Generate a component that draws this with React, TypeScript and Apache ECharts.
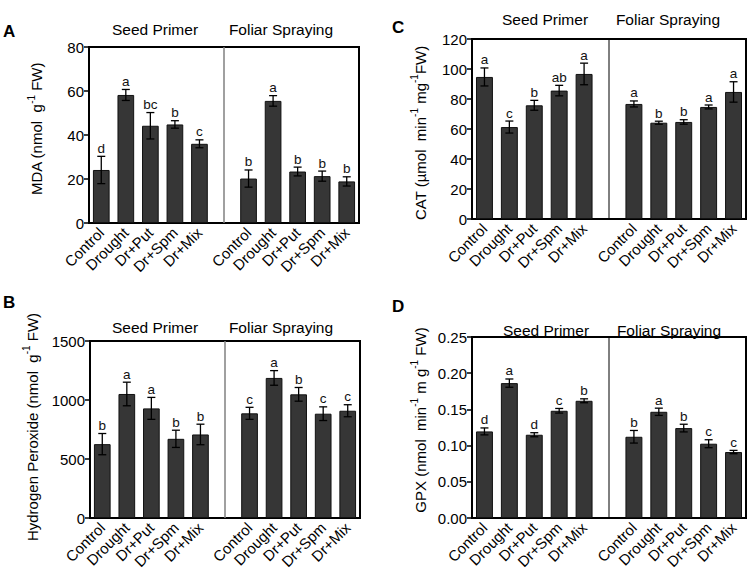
import React, { useEffect, useRef } from "react";
import * as echarts from "echarts";

const FONT = "'Liberation Sans', Arial, Helvetica, sans-serif";

const categories = ["Control", "Drought", "Dr+Put", "Dr+Spm", "Dr+Mix", "", "Control", "Drought", "Dr+Put", "Dr+Spm", "Dr+Mix"];
const groupTitles = ["Seed Primer", "Foliar Spraying"];

// Panel A: MDA
const mdaSeed = [24.1, 58.2, 44.2, 44.8, 36.0];
const mdaSeedErr = [6.2, 2.5, 6.0, 1.7, 1.8];
const mdaFoliar = [20.2, 55.5, 23.4, 21.3, 18.9];
const mdaFoliarErr = [3.9, 2.4, 2.0, 2.3, 2.1];
const mdaLetters = ["d", "a", "bc", "b", "c", "b", "a", "b", "b", "b"];

// Panel B: Hydrogen peroxide
const h2o2Seed = [626, 1051, 929, 671, 708];
const h2o2SeedErr = [90, 100, 93, 73, 87];
const h2o2Foliar = [887, 1187, 1048, 884, 909];
const h2o2FoliarErr = [51, 62, 58, 58, 51];
const h2o2Letters = ["b", "a", "a", "b", "b", "c", "a", "b", "c", "c"];

// Panel C: CAT
const catSeed = [94.7, 61.3, 75.8, 85.6, 96.7];
const catSeedErr = [6.0, 4.0, 3.3, 3.5, 7.2];
const catFoliar = [76.7, 64.2, 64.7, 74.7, 84.7];
const catFoliarErr = [2.0, 1.0, 1.5, 1.3, 6.8];
const catLetters = ["a", "c", "b", "ab", "a", "a", "b", "b", "a", "a"];

// Panel D: GPX
const gpxSeed = [0.1196, 0.1863, 0.115, 0.1481, 0.1619];
const gpxSeedErr = [0.0048, 0.0057, 0.0028, 0.0032, 0.0027];
const gpxFoliar = [0.1122, 0.1467, 0.1242, 0.1026, 0.0911];
const gpxFoliarErr = [0.0087, 0.005, 0.0053, 0.0055, 0.0023];
const gpxLetters = ["d", "a", "d", "c", "b", "b", "a", "b", "c", "c"];

type Panel = {
  seed: number[];
  seedErr: number[];
  foliar: number[];
  foliarErr: number[];
  letters: string[];
  max: number;
  interval: number;
  decimals: number;
  grid: { left: number; top: number; width: number; height: number };
  sepColor: string;
  sepWidth: number;
};

const panels: Panel[] = [
  { seed: mdaSeed, seedErr: mdaSeedErr, foliar: mdaFoliar, foliarErr: mdaFoliarErr, letters: mdaLetters, max: 80, interval: 20, decimals: 0, grid: { left: 89, top: 47, width: 270, height: 176 }, sepColor: "#808080", sepWidth: 1.5 },
  { seed: h2o2Seed, seedErr: h2o2SeedErr, foliar: h2o2Foliar, foliarErr: h2o2FoliarErr, letters: h2o2Letters, max: 1500, interval: 500, decimals: 0, grid: { left: 90, top: 341, width: 270, height: 177 }, sepColor: "#808080", sepWidth: 1.5 },
  { seed: catSeed, seedErr: catSeedErr, foliar: catFoliar, foliarErr: catFoliarErr, letters: catLetters, max: 120, interval: 20, decimals: 0, grid: { left: 472, top: 39, width: 274, height: 180 }, sepColor: "#000", sepWidth: 1 },
  { seed: gpxSeed, seedErr: gpxSeedErr, foliar: gpxFoliar, foliarErr: gpxFoliarErr, letters: gpxLetters, max: 0.25, interval: 0.05, decimals: 2, grid: { left: 472, top: 337, width: 274, height: 181 }, sepColor: "#000", sepWidth: 1 },
];

const rich = {
  n: { fontSize: 15, fontFamily: FONT, color: "#000", lineHeight: 18, verticalAlign: "bottom" as const },
  s: { fontSize: 10, fontFamily: FONT, color: "#000", lineHeight: 8, verticalAlign: "top" as const },
};

const yTitles = [
  { text: "{n|MDA (nmol  g}{s|-1}{n| FW)}", x: 35, y: 129 },
  { text: "{n|Hydrogen Peroxide (nmol  g}{s|-1}{n| FW)}", x: 30.5, y: 427 },
  { text: "{n|CAT (µmol  min}{s|-1}{n| mg}{s|-1}{n|FW)}", x: 418.5, y: 133 },
  { text: "{n|GPX (nmol  min}{s|-1}{n| m g}{s|-1}{n| FW)}", x: 418.5, y: 420 },
];

const panelLetters = [
  { t: "A", x: 3, y: 31 },
  { t: "B", x: 3, y: 302 },
  { t: "C", x: 392, y: 27 },
  { t: "D", x: 392, y: 306 },
];

const groupPos = [
  { y: 29.5, xs: [155, 281] },
  { y: 327, xs: [155, 281] },
  { y: 19.5, xs: [545, 668] },
  { y: 330, xs: [546, 669] },
];

function makeErrRender(p: Panel) {
  return (params: any, api: any) => {
    const idx = api.value(0);
    const mean = api.value(1);
    const err = api.value(2);
    const top = api.coord([idx, mean + err]);
    const bot = api.coord([idx, mean - err]);
    const hw = 4;
    const ls = { stroke: "#000", lineWidth: 1.3 };
    const children: any[] = [
      { type: "line", shape: { x1: top[0], y1: top[1], x2: bot[0], y2: bot[1] }, style: ls },
      { type: "line", shape: { x1: top[0] - hw, y1: top[1], x2: top[0] + hw, y2: top[1] }, style: ls },
      { type: "line", shape: { x1: bot[0] - hw, y1: bot[1], x2: bot[0] + hw, y2: bot[1] }, style: ls },
      {
        type: "text",
        x: top[0],
        y: top[1] - 1,
        style: { text: p.letters[params.dataIndex], align: "center", verticalAlign: "bottom", fontSize: 13.5, fontFamily: FONT, fill: "#111" },
      },
    ];
    if (params.dataIndex === 0) {
      const cs = params.coordSys;
      const sx = api.coord([5, 0])[0];
      children.push({ type: "line", shape: { x1: sx, y1: cs.y, x2: sx, y2: cs.y + cs.height }, style: { stroke: p.sepColor, lineWidth: p.sepWidth } });
    }
    return { type: "group", children };
  };
}

function buildOption() {
  const grid: any[] = [];
  const xAxis: any[] = [];
  const yAxis: any[] = [];
  const series: any[] = [];
  panels.forEach((p, i) => {
    grid.push({ ...p.grid, show: true, borderColor: "#000", borderWidth: 2, backgroundColor: "transparent" });
    xAxis.push({
      type: "category",
      gridIndex: i,
      data: categories,
      axisLine: { lineStyle: { color: "#000", width: 2 } },
      axisTick: { alignWithLabel: true, interval: 0, length: 5, lineStyle: { color: "#000", width: 1.5 } },
      axisLabel: { interval: 0, rotate: 45, fontSize: 15, fontFamily: FONT, color: "#000", margin: 7 },
      splitLine: { show: false },
    });
    yAxis.push({
      type: "value",
      gridIndex: i,
      min: 0,
      max: p.max,
      interval: p.interval,
      axisLine: { show: true, lineStyle: { color: "#000", width: 2 } },
      axisTick: { show: true, length: 5, lineStyle: { color: "#000", width: 1.5 } },
      axisLabel: { fontSize: 15, fontFamily: FONT, color: "#000", margin: 5, formatter: (v: number) => v.toFixed(p.decimals) },
      splitLine: { show: false },
    });
    const barData = [...p.seed, "-", ...p.foliar];
    series.push({
      type: "bar",
      xAxisIndex: i,
      yAxisIndex: i,
      data: barData,
      barWidth: "68%",
      itemStyle: { color: "#363636", borderColor: "#111", borderWidth: 1 },
      silent: true,
    });
    const errData: number[][] = [];
    p.seed.forEach((v, k) => errData.push([k, v, p.seedErr[k]]));
    p.foliar.forEach((v, k) => errData.push([k + 6, v, p.foliarErr[k]]));
    series.push({
      type: "custom",
      xAxisIndex: i,
      yAxisIndex: i,
      data: errData,
      renderItem: makeErrRender(p),
      z: 5,
      silent: true,
    });
  });

  const graphic: any[] = [];
  panelLetters.forEach((l) => {
    graphic.push({ type: "text", x: l.x, y: l.y, style: { text: l.t, fontSize: 17, fontWeight: "bold", fontFamily: FONT, fill: "#000", align: "left", verticalAlign: "middle" } });
  });
  groupPos.forEach((g) => {
    g.xs.forEach((x, k) => {
      graphic.push({ type: "text", x, y: g.y, style: { text: groupTitles[k], fontSize: 15.5, fontFamily: FONT, fill: "#000", align: "center", verticalAlign: "middle" } });
    });
  });
  yTitles.forEach((t) => {
    graphic.push({ type: "text", x: t.x, y: t.y, rotation: Math.PI / 2, style: { text: t.text, rich, align: "center", verticalAlign: "middle", fontSize: 15, fontFamily: FONT, fill: "#000" } });
  });

  return { animation: false, backgroundColor: "#fff", grid, xAxis, yAxis, series, graphic };
}

export default function App() {
  const ref = useRef<HTMLDivElement>(null);
  useEffect(() => {
    if (!ref.current) return;
    const chart = echarts.init(ref.current, undefined, { renderer: "svg" });
    chart.setOption(buildOption() as any);
    return () => chart.dispose();
  }, []);
  return <div ref={ref} style={{ position: "fixed", left: 0, top: 0, width: 750, height: 576, background: "#fff" }} />;
}
